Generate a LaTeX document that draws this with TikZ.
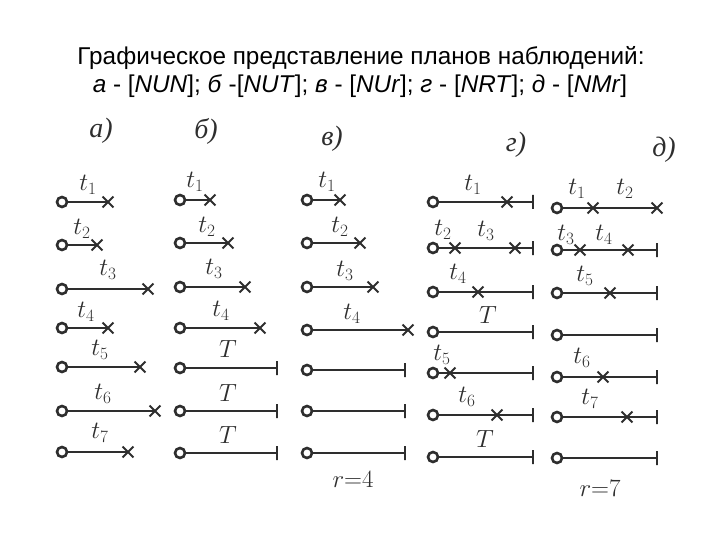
\documentclass[tikz,border=0pt]{standalone}
\usepackage{fontspec}
\setmainfont{Liberation Serif}
\newfontfamily\titlefont{Liberation Sans}
\usetikzlibrary{shapes.misc}
\definecolor{ink}{HTML}{2E2E2E}
\tikzset{
  obs/.style={line width=2.4pt, draw=ink},
  startc/.style={circle, draw=ink, line width=2.6pt, fill=white, minimum size=10pt, inner sep=0pt},
  xmark/.style={cross out, draw=ink, line width=1.8pt, minimum size=9pt, inner sep=0pt},
  endbar/.style={rectangle, draw=ink, line width=1.8pt, minimum width=0pt, minimum height=14pt, inner sep=0pt},
  lbl/.style={text=ink, font=\fontsize{24}{28}\selectfont, inner sep=0pt},
  plbl/.style={text=ink, font=\fontsize{28}{32}\selectfont\itshape, inner sep=0pt},
  ttl/.style={font=\titlefont\fontsize{24.3}{28}\selectfont, inner sep=0pt}
}
\begin{document}
\begin{tikzpicture}[x=1pt,y=-1pt]
\useasboundingbox (0,0) rectangle (720,540);
% title
\node[ttl] (title1) at (361,58) {Графическое представление планов наблюдений:};
\node[ttl] (title2) at (360,86) {\textit{а} - [\textit{NUN}]; \textit{б} -[\textit{NUT}]; \textit{в} - [\textit{NUr}]; \textit{г} - [\textit{NRT}]; \textit{д} - [\textit{NMr}]};
% panel labels
\node[plbl] (pa) at (101,131) {а)};
\node[plbl] (pb) at (206,131) {б)};
\node[plbl] (pv) at (332,139) {в)};
\node[plbl] (pg) at (516,145) {г)};
\node[plbl] (pd) at (664,150) {д)};
% ---------- panel a
\foreach \i/\y/\e in {1/202/108, 2/245/97, 3/289/148, 4/328/108, 5/367/140, 6/411/155, 7/452/128}{
  \node[xmark] (ax\i) at (\e,\y) {};
  \node[startc] (ac\i) at (62,\y) {};
  \draw[obs] (ac\i) -- (ax\i.center);
}
\node[lbl] (at1) at (88,185) {$t_1$};
\node[lbl] (at2) at (82,229) {$t_2$};
\node[lbl] (at3) at (108,270) {$t_3$};
\node[lbl] (at4) at (86,312) {$t_4$};
\node[lbl] (at5) at (100,350) {$t_5$};
\node[lbl] (at6) at (103,394) {$t_6$};
\node[lbl] (at7) at (100,433) {$t_7$};
% ---------- panel b
\foreach \i/\y/\e in {1/200/210, 2/243/228, 3/287/245, 4/328/260}{
  \node[xmark] (bx\i) at (\e,\y) {};
  \node[startc] (bc\i) at (180,\y) {};
  \draw[obs] (bc\i) -- (bx\i.center);
}
\foreach \i/\y in {5/368, 6/411, 7/453}{
  \node[endbar] (bb\i) at (277,\y) {};
  \node[startc] (bc\i) at (180,\y) {};
  \draw[obs] (bc\i) -- (bb\i.center);
}
\node[lbl] (bt1) at (195,182) {$t_1$};
\node[lbl] (bt2) at (207,227) {$t_2$};
\node[lbl] (bt3) at (214,269) {$t_3$};
\node[lbl] (bt4) at (221,311) {$t_4$};
\node[lbl] (bT5) at (228,349) {$T$};
\node[lbl] (bT6) at (228,393) {$T$};
\node[lbl] (bT7) at (228,435) {$T$};
% ---------- panel v
\foreach \i/\y/\e in {1/200/340, 2/243/360, 3/287/373, 4/330/408}{
  \node[xmark] (vx\i) at (\e,\y) {};
  \node[startc] (vc\i) at (307,\y) {};
  \draw[obs] (vc\i) -- (vx\i.center);
}
\foreach \i/\y in {5/370, 6/411, 7/453}{
  \node[endbar] (vb\i) at (405,\y) {};
  \node[startc] (vc\i) at (307,\y) {};
  \draw[obs] (vc\i) -- (vb\i.center);
}
\node[lbl] (vt1) at (327,182) {$t_1$};
\node[lbl] (vt2) at (340,227) {$t_2$};
\node[lbl] (vt3) at (345,271) {$t_3$};
\node[lbl] (vt4) at (352,314) {$t_4$};
\node[lbl] (vr) at (353,479) {$r{=}4$};
% ---------- panel g
\foreach \i/\y in {1/202, 2/248, 3/292, 4/332, 5/373, 6/415, 7/457}{
  \node[endbar] (gb\i) at (533,\y) {};
  \node[startc] (gc\i) at (433,\y) {};
}
\node[xmark] (gx1) at (507,202) {};
\node[xmark] (gx2a) at (455,248) {};
\node[xmark] (gx2b) at (515,248) {};
\node[xmark] (gx3) at (478,292) {};
\node[xmark] (gx5) at (450,373) {};
\node[xmark] (gx6) at (497,415) {};
\draw[obs] (gc1) -- (gx1.center) -- (gb1.center);
\draw[obs] (gc2) -- (gx2a.center) -- (gx2b.center) -- (gb2.center);
\draw[obs] (gc3) -- (gx3.center) -- (gb3.center);
\draw[obs] (gc4) -- (gb4.center);
\draw[obs] (gc5) -- (gx5.center) -- (gb5.center);
\draw[obs] (gc6) -- (gx6.center) -- (gb6.center);
\draw[obs] (gc7) -- (gb7.center);
\node[lbl] (gt1) at (473,185) {$t_1$};
\node[lbl] (gt2) at (443,230) {$t_2$};
\node[lbl] (gt3) at (486,231) {$t_3$};
\node[lbl] (gt4) at (458,274) {$t_4$};
\node[lbl] (gT4) at (488,315) {$T$};
\node[lbl] (gt5) at (442,355) {$t_5$};
\node[lbl] (gt6) at (467,397) {$t_6$};
\node[lbl] (gT7) at (485,439) {$T$};
% ---------- panel d
\foreach \i/\y in {2/250, 3/293, 4/335, 5/377, 6/417, 7/458}{
  \node[endbar] (db\i) at (657,\y) {};
}
\foreach \i/\y in {1/208, 2/250, 3/293, 4/335, 5/377, 6/417, 7/458}{
  \node[startc] (dc\i) at (557,\y) {};
}
\node[xmark] (dx1a) at (593,208) {};
\node[xmark] (dx1b) at (657,208) {};
\node[xmark] (dx2a) at (580,250) {};
\node[xmark] (dx2b) at (628,250) {};
\node[xmark] (dx3) at (610,293) {};
\node[xmark] (dx5) at (603,377) {};
\node[xmark] (dx6) at (627,417) {};
\draw[obs] (dc1) -- (dx1a.center) -- (dx1b.center);
\draw[obs] (dc2) -- (dx2a.center) -- (dx2b.center) -- (db2.center);
\draw[obs] (dc3) -- (dx3.center) -- (db3.center);
\draw[obs] (dc4) -- (db4.center);
\draw[obs] (dc5) -- (dx5.center) -- (db5.center);
\draw[obs] (dc6) -- (dx6.center) -- (db6.center);
\draw[obs] (dc7) -- (db7.center);
\node[lbl] (dt1) at (577,189) {$t_1$};
\node[lbl] (dt2) at (625,189) {$t_2$};
\node[lbl] (dt3) at (566,235) {$t_3$};
\node[lbl] (dt4) at (604,235) {$t_4$};
\node[lbl] (dt5) at (585,276) {$t_5$};
\node[lbl] (dt6) at (582,358) {$t_6$};
\node[lbl] (dt7) at (590,399) {$t_7$};
\node[lbl] (dr) at (600,488) {$r{=}7$};
\end{tikzpicture}
\end{document}
